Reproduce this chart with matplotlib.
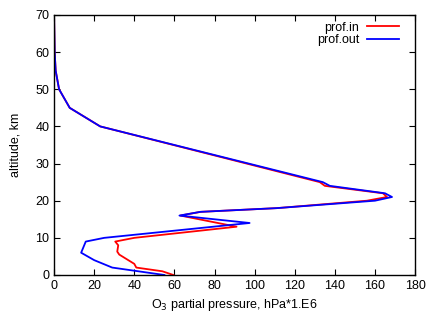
import numpy as np
import matplotlib.pyplot as plt

plt.rcParams['font.family'] = ['Liberation Sans', 'DejaVu Sans']

#%% data

alt_in = [0, 1, 2, 3, 5.5, 6.3, 8, 9, 10, 13, 16, 17, 18, 20, 21, 22, 24, 25, 40, 45, 50, 55, 60, 70]
o3_in = [59.5, 54, 41, 40, 32.5, 31.5, 32, 30.5, 40, 91, 63, 73, 111, 156, 166, 164, 135, 132.5,
         23, 7.8, 2.5, 0.8, 0.3, 0]

alt_out = [0, 2, 4, 6, 9, 10, 14, 16, 17, 18, 20, 21, 22, 24, 25, 40, 45, 50, 55, 60, 70]
o3_out = [55, 29, 20, 13.5, 15.8, 25, 97.5, 62.5, 73, 111, 160, 168.5, 165, 137.5, 134,
          23, 7.8, 2.5, 0.8, 0.3, 0]

#%% plot

fig = plt.figure(figsize=(4.36, 3.12), dpi=100)
ax = fig.add_axes([0.124, 0.1186, 0.828, 0.8334])

ax.plot(o3_in, alt_in, color='#ff0000', lw=1.3, label='prof.in')
ax.plot(o3_out, alt_out, color='#0000ff', lw=1.3, label='prof.out')

ax.set_xlim(0, 180)
ax.set_ylim(0, 70)
ax.set_xticks(np.arange(0, 181, 20))
ax.set_yticks(np.arange(0, 71, 10))
ax.tick_params(direction='in', top=True, right=True, length=4, labelsize=9)
for s in ax.spines.values():
    s.set_linewidth(1)

ax.set_xlabel(r'O$_3$ partial pressure, hPa*1.E6', fontsize=9, labelpad=4)
ax.set_ylabel('altitude, km', fontsize=9, labelpad=10)

ax.legend(loc='upper right', bbox_to_anchor=(0.981, 1.008), frameon=False,
          markerfirst=False, fontsize=9, handlelength=2.6, borderaxespad=0.3,
          labelspacing=0.05, handletextpad=0.6)

plt.savefig('out.png', dpi=100)
plt.close()
